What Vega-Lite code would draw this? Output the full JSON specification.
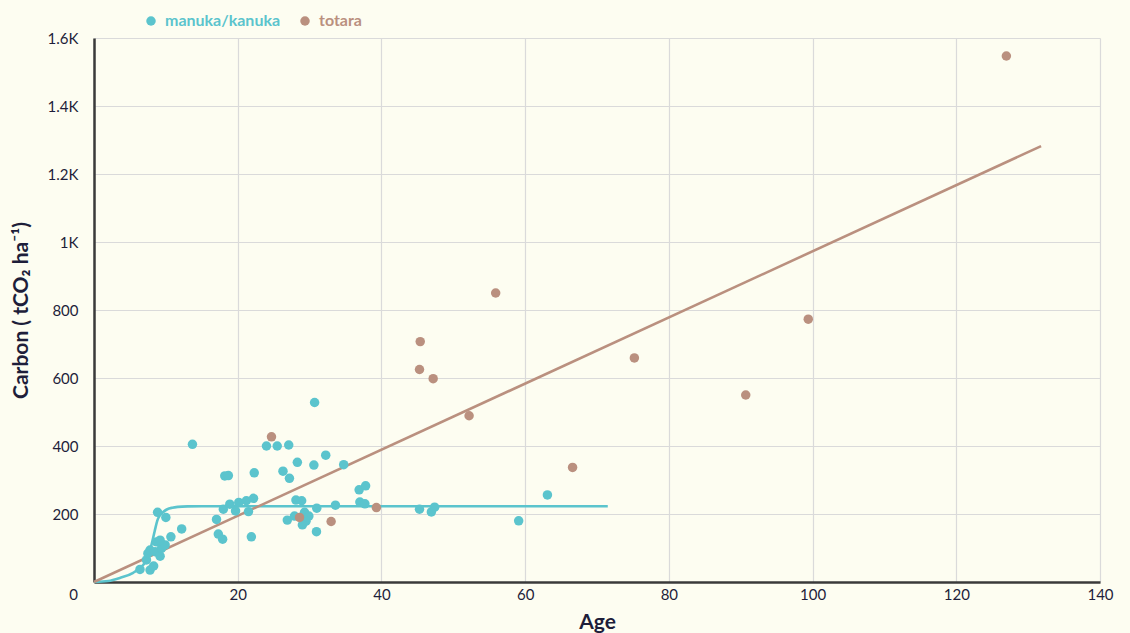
{
  "$schema": "https://vega.github.io/schema/vega-lite/v6.json",
  "autosize": {"type": "none"},
  "width": 1006,
  "height": 544,
  "padding": {"left": 94, "top": 38, "right": 30, "bottom": 51},
  "background": "#FDFDF1",
  "config": {
    "font": "Lato",
    "view": {"stroke": null},
    "axis": {
      "labelFont": "Lato",
      "labelFontSize": 15,
      "labelColor": "#1E1E3A",
      "titleFont": "Lato",
      "titleFontSize": 21,
      "titleFontWeight": "bold",
      "titleColor": "#1E1E3A",
      "domainColor": "#3A3A3A",
      "domainWidth": 2.5,
      "ticks": false,
      "grid": true,
      "gridColor": "#DADADA",
      "gridWidth": 1.2
    },
    "legend": {
      "title": null,
      "orient": "none",
      "padding": 0,
      "symbolType": "circle",
      "symbolSize": 90,
      "symbolOpacity": 1,
      "labelFont": "Lato",
      "labelFontSize": 16,
      "labelFontWeight": "bold",
      "labelOffset": 6
    }
  },
  "datasets": {
    "pts": [
      {"species": "manuka/kanuka", "age": 6.4, "carbon": 37},
      {"species": "manuka/kanuka", "age": 7.8, "carbon": 35},
      {"species": "manuka/kanuka", "age": 8.3, "carbon": 47},
      {"species": "manuka/kanuka", "age": 7.3, "carbon": 65},
      {"species": "manuka/kanuka", "age": 7.5, "carbon": 84},
      {"species": "manuka/kanuka", "age": 7.8, "carbon": 94},
      {"species": "manuka/kanuka", "age": 8.5, "carbon": 89},
      {"species": "manuka/kanuka", "age": 9.2, "carbon": 76},
      {"species": "manuka/kanuka", "age": 9.4, "carbon": 99},
      {"species": "manuka/kanuka", "age": 9.9, "carbon": 109},
      {"species": "manuka/kanuka", "age": 8.7, "carbon": 118},
      {"species": "manuka/kanuka", "age": 9.2, "carbon": 123},
      {"species": "manuka/kanuka", "age": 10.7, "carbon": 133},
      {"species": "manuka/kanuka", "age": 12.2, "carbon": 156},
      {"species": "manuka/kanuka", "age": 8.85, "carbon": 205},
      {"species": "manuka/kanuka", "age": 10.0, "carbon": 190},
      {"species": "manuka/kanuka", "age": 13.7, "carbon": 405},
      {"species": "manuka/kanuka", "age": 18.2, "carbon": 312},
      {"species": "manuka/kanuka", "age": 18.7, "carbon": 313},
      {"species": "manuka/kanuka", "age": 22.3, "carbon": 321},
      {"species": "manuka/kanuka", "age": 24.0, "carbon": 400},
      {"species": "manuka/kanuka", "age": 25.5, "carbon": 400},
      {"species": "manuka/kanuka", "age": 27.1, "carbon": 403},
      {"species": "manuka/kanuka", "age": 26.3, "carbon": 326},
      {"species": "manuka/kanuka", "age": 27.2, "carbon": 305},
      {"species": "manuka/kanuka", "age": 17.05, "carbon": 184},
      {"species": "manuka/kanuka", "age": 17.3, "carbon": 141},
      {"species": "manuka/kanuka", "age": 17.9, "carbon": 126},
      {"species": "manuka/kanuka", "age": 18.0, "carbon": 214},
      {"species": "manuka/kanuka", "age": 18.9, "carbon": 229},
      {"species": "manuka/kanuka", "age": 19.7, "carbon": 209},
      {"species": "manuka/kanuka", "age": 20.15, "carbon": 234},
      {"species": "manuka/kanuka", "age": 21.2, "carbon": 239},
      {"species": "manuka/kanuka", "age": 22.2, "carbon": 246},
      {"species": "manuka/kanuka", "age": 21.5, "carbon": 207},
      {"species": "manuka/kanuka", "age": 21.9, "carbon": 133},
      {"species": "manuka/kanuka", "age": 26.9, "carbon": 182},
      {"species": "manuka/kanuka", "age": 30.7, "carbon": 528},
      {"species": "manuka/kanuka", "age": 32.25, "carbon": 373},
      {"species": "manuka/kanuka", "age": 28.3, "carbon": 352},
      {"species": "manuka/kanuka", "age": 30.6, "carbon": 344},
      {"species": "manuka/kanuka", "age": 34.75, "carbon": 345},
      {"species": "manuka/kanuka", "age": 28.1, "carbon": 241},
      {"species": "manuka/kanuka", "age": 28.9, "carbon": 239},
      {"species": "manuka/kanuka", "age": 31.0, "carbon": 217},
      {"species": "manuka/kanuka", "age": 33.6, "carbon": 226},
      {"species": "manuka/kanuka", "age": 36.9, "carbon": 271},
      {"species": "manuka/kanuka", "age": 37.8, "carbon": 283},
      {"species": "manuka/kanuka", "age": 37.0, "carbon": 235},
      {"species": "manuka/kanuka", "age": 37.7, "carbon": 230},
      {"species": "manuka/kanuka", "age": 27.9, "carbon": 194},
      {"species": "manuka/kanuka", "age": 29.3, "carbon": 205},
      {"species": "manuka/kanuka", "age": 29.9, "carbon": 194},
      {"species": "manuka/kanuka", "age": 29.5, "carbon": 179},
      {"species": "manuka/kanuka", "age": 29.0, "carbon": 168},
      {"species": "manuka/kanuka", "age": 30.96, "carbon": 148},
      {"species": "manuka/kanuka", "age": 45.3, "carbon": 214},
      {"species": "manuka/kanuka", "age": 46.95, "carbon": 206},
      {"species": "manuka/kanuka", "age": 47.4, "carbon": 220},
      {"species": "manuka/kanuka", "age": 59.1, "carbon": 180},
      {"species": "manuka/kanuka", "age": 63.1, "carbon": 256},
      {"species": "totara", "age": 126.97, "carbon": 1547},
      {"species": "totara", "age": 99.4, "carbon": 773},
      {"species": "totara", "age": 90.7, "carbon": 550},
      {"species": "totara", "age": 75.2, "carbon": 659},
      {"species": "totara", "age": 66.6, "carbon": 337},
      {"species": "totara", "age": 55.9, "carbon": 850},
      {"species": "totara", "age": 52.2, "carbon": 489},
      {"species": "totara", "age": 47.2, "carbon": 598},
      {"species": "totara", "age": 45.4, "carbon": 707},
      {"species": "totara", "age": 45.3, "carbon": 625},
      {"species": "totara", "age": 39.3, "carbon": 219},
      {"species": "totara", "age": 33.0, "carbon": 178},
      {"species": "totara", "age": 28.6, "carbon": 190},
      {"species": "totara", "age": 24.7, "carbon": 427}
    ],
    "fits": [
      {"species": "manuka/kanuka", "age": 0, "carbon": 0},
      {"species": "manuka/kanuka", "age": 2, "carbon": 3},
      {"species": "manuka/kanuka", "age": 3.6, "carbon": 12},
      {"species": "manuka/kanuka", "age": 5.45, "carbon": 27},
      {"species": "manuka/kanuka", "age": 6.84, "carbon": 50},
      {"species": "manuka/kanuka", "age": 7.54, "carbon": 74},
      {"species": "manuka/kanuka", "age": 8.0, "carbon": 109},
      {"species": "manuka/kanuka", "age": 8.45, "carbon": 150},
      {"species": "manuka/kanuka", "age": 8.8, "carbon": 180},
      {"species": "manuka/kanuka", "age": 9.2, "carbon": 197},
      {"species": "manuka/kanuka", "age": 9.7, "carbon": 207},
      {"species": "manuka/kanuka", "age": 10.2, "carbon": 214},
      {"species": "manuka/kanuka", "age": 10.9, "carbon": 218.5},
      {"species": "manuka/kanuka", "age": 11.7, "carbon": 221},
      {"species": "manuka/kanuka", "age": 13.0, "carbon": 222.5},
      {"species": "manuka/kanuka", "age": 15.0, "carbon": 223},
      {"species": "manuka/kanuka", "age": 71.5, "carbon": 223},
      {"species": "totara", "age": 0, "carbon": 0},
      {"species": "totara", "age": 131.8, "carbon": 1282}
    ]
  },
  "encoding": {
    "x": {
      "field": "age",
      "type": "quantitative",
      "scale": {"domain": [0, 140], "nice": false, "zero": true},
      "axis": {
        "title": "Age",
        "values": [0, 20, 40, 60, 80, 100, 120, 140],
        "labelPadding": 5,
        "labelFlush": false,
        "labelOffset": {"condition": {"test": "datum.value == 0", "value": -21}, "value": 0},
        "titlePadding": 9
      }
    },
    "y": {
      "field": "carbon",
      "type": "quantitative",
      "scale": {"domain": [0, 1600], "nice": false},
      "axis": {
        "title": "Carbon ( tCO₂ ha⁻¹)",
        "values": [0, 200, 400, 600, 800, 1000, 1200, 1400, 1600],
        "labelExpr": "datum.value == 0 ? '' : (datum.value >= 1000 ? format(datum.value / 1000, '~g') + 'K' : format(datum.value, 'd'))",
        "labelPadding": 16,
        "titlePadding": 16
      }
    }
  },
  "layer": [
    {
      "data": {"name": "fits"},
      "transform": [{"filter": "datum.species == 'manuka/kanuka'"}],
      "mark": {"type": "line", "interpolate": "monotone", "strokeWidth": 2.6, "color": "#5BC4CD"}
    },
    {
      "data": {"name": "fits"},
      "transform": [{"filter": "datum.species == 'totara'"}],
      "mark": {"type": "line", "strokeWidth": 2.6, "color": "#BA907F"}
    },
    {
      "data": {"name": "pts"},
      "transform": [{"filter": "datum.species == 'manuka/kanuka'"}],
      "mark": {"type": "circle", "size": 90, "opacity": 1},
      "encoding": {
        "color": {
          "field": "species",
          "type": "nominal",
          "scale": {"domain": ["manuka/kanuka"], "range": ["#5BC4CD"]},
          "legend": {"legendX": 49, "legendY": -25, "labelColor": "#5BC4CD"}
        }
      }
    },
    {
      "data": {"name": "pts"},
      "transform": [{"filter": "datum.species == 'totara'"}],
      "mark": {"type": "circle", "size": 90, "opacity": 1},
      "encoding": {
        "fill": {
          "field": "species",
          "type": "nominal",
          "scale": {"domain": ["totara"], "range": ["#BA907F"]},
          "legend": {"legendX": 203, "legendY": -25, "labelColor": "#BA907F"}
        }
      }
    }
  ]
}
